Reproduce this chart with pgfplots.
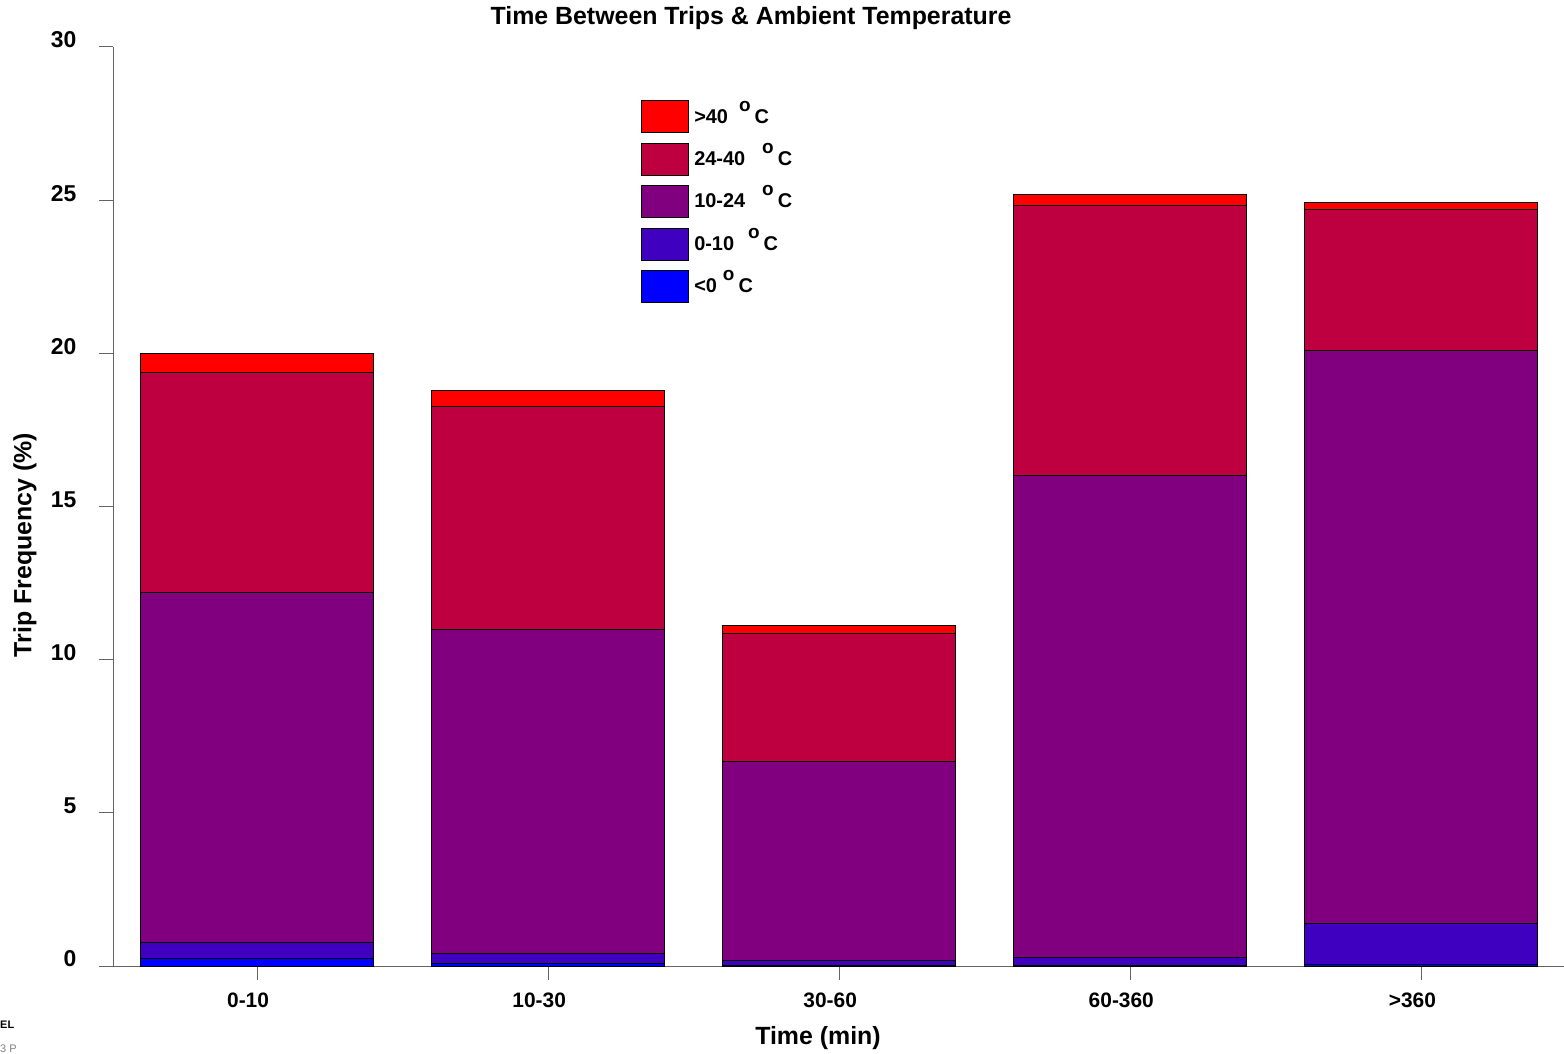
\documentclass[border=0pt]{standalone}
\usepackage{pgfplots}
\usepackage{pgfplotstable}
\pgfplotsset{compat=1.18}
\usepackage{fontspec}
\setmainfont{Liberation Sans}
\definecolor{cA}{RGB}{0,0,255}
\definecolor{cB}{RGB}{64,0,192}
\definecolor{cC}{RGB}{128,0,128}
\definecolor{cD}{RGB}{190,0,64}
\definecolor{cE}{RGB}{255,0,0}
\definecolor{axg}{RGB}{100,100,100}
\pgfplotstableread{
x lt0 a0 a10 a24 a40
0 0.26 0.52 11.40 7.18 0.62
1 0.09 0.32 10.56 7.31 0.52
2 0.03 0.14 6.49 4.21 0.26
3 0.02 0.26 15.72 8.81 0.36
4 0.05 1.34 18.69 4.60 0.23
}\data
\newcommand{\degC}[1]{\hspace{#1}\smash{\raisebox{12bp}{\fontsize{19}{19}\selectfont o}}\hspace{4bp}C}
\begin{document}
\begin{tikzpicture}[x=1bp,y=1bp]
\path[use as bounding box] (0,0) rectangle (1564,1053);
\begin{axis}[
  at={(113bp,87bp)}, anchor=south west,
  scale only axis, width=1451bp, height=919bp,
  ybar stacked, bar width=233bp,
  xmin=-0.495, xmax=4.49, ymin=0, ymax=30,
  axis x line=bottom, axis y line=left,
  axis line style={-, draw=axg, line width=1bp},
  xtick={0,1,2,3,4},
  xticklabels={0-10,10-30,30-60,60-360,>360},
  ytick={0,5,10,15,20,25,30},
  tick align=outside,
  major tick length=14bp,
  tick style={draw=axg, line width=1bp},
  xticklabel style={font=\fontsize{21}{25}\selectfont\bfseries, xshift=-9bp, yshift=-9bp},
  yticklabel style={font=\fontsize{23}{27}\selectfont\bfseries, yshift=7bp, xshift=-19bp},
  /pgf/number format/assume math mode=true,
  every axis plot/.append style={draw=black, line width=1bp},
  legend image code/.code={\draw[#1, draw=black, line width=0.9bp] (0bp,-16bp) rectangle (47bp,16bp);},
  reverse legend,
  legend cell align=left,
  legend style={at={(0.364,0.942)}, anchor=north west, draw=none, fill=none,
    inner sep=0pt, row sep=9.5bp,
    font=\fontsize{20}{24}\selectfont\bfseries},
]
\addplot[fill=cA] table[x=x, y=lt0] {\data};
\addplot[fill=cB] table[x=x, y=a0] {\data};
\addplot[fill=cC] table[x=x, y=a10] {\data};
\addplot[fill=cD] table[x=x, y=a24] {\data};
\addplot[fill=cE] table[x=x, y=a40] {\data};
\legend{{\hspace{3bp}<0\degC{6bp}},{\hspace{3bp}0-10\degC{14bp}},{\hspace{3bp}10-24\degC{17bp}},{\hspace{3bp}24-40\degC{17bp}},{\hspace{3bp}>40\degC{11bp}}}
\end{axis}
\node[font=\fontsize{25}{30}\selectfont\bfseries] at (751,1035) {Time Between Trips \& Ambient Temperature};
\node[font=\fontsize{25}{30}\selectfont\bfseries] at (818,15) {Time (min)};
\node[font=\fontsize{25}{30}\selectfont\bfseries, rotate=90] at (25,508) {Trip Frequency (\%)};
\node[anchor=west, font=\fontsize{11}{13}\selectfont\bfseries, inner sep=0] at (0,28) {EL};
\node[anchor=west, text=gray, font=\fontsize{11}{13}\selectfont, inner sep=0] at (0,4) {3 P};
\end{tikzpicture}
\end{document}
